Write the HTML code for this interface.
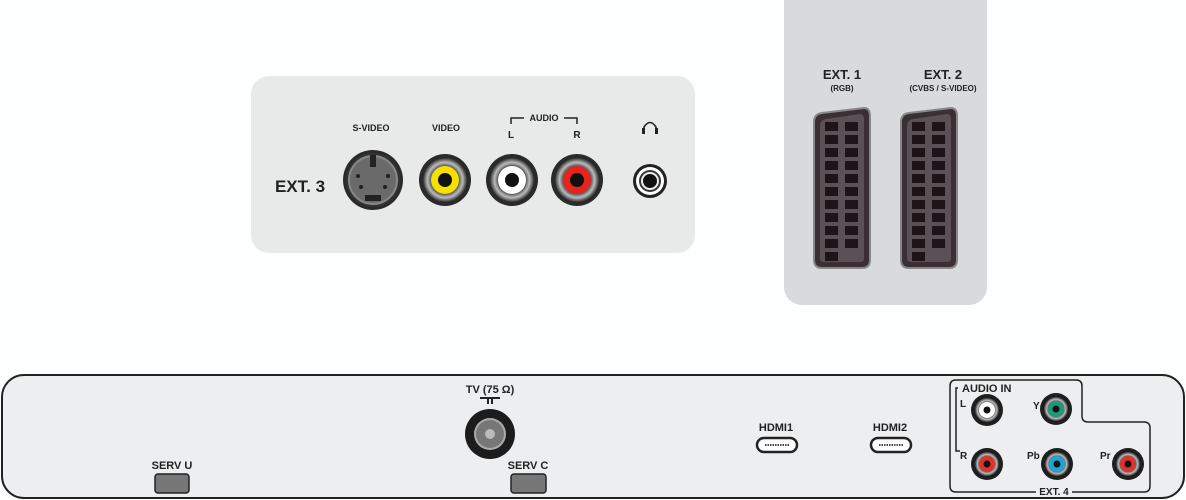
<!DOCTYPE html>
<html><head><style>
html,body{margin:0;padding:0;background:#fdfefe;}
svg{display:block;}
text{font-family:"Liberation Sans",sans-serif;font-weight:bold;fill:#222;}
</style></head><body>
<svg width="1186" height="500" viewBox="0 0 1186 500" xmlns="http://www.w3.org/2000/svg">
<defs>
<radialGradient id="rg" cx="50%" cy="50%" r="50%">
<stop offset="0.6" stop-color="#444"/><stop offset="0.8" stop-color="#bbb"/><stop offset="1" stop-color="#333"/>
</radialGradient>
<g id="scart">
<path d="M2,14 Q2,6 10,5 L52,0 Q58,0 58,8 L58,152 Q58,160 50,160 L10,160 Q2,160 2,152 Z" fill="#3a3034" stroke="#888" stroke-width="2"/>
<path d="M8,18 Q8,12 14,11 L48,6 Q52,6 52,12 L52,150 Q52,154 48,154 L12,154 Q8,154 8,150 Z" fill="#5a5055"/>
</g>
</defs>
<!-- top panel -->
<rect x="251" y="76" width="444" height="177" rx="18" fill="#e8eaea"/>
<text x="300" y="192" font-size="17" text-anchor="middle">EXT. 3</text>
<text x="371" y="131" font-size="9" text-anchor="middle" font-weight="normal">S-VIDEO</text>
<text x="446" y="131" font-size="9" text-anchor="middle" font-weight="normal">VIDEO</text>
<path d="M511,124 V118 H524 M564,118 H577 V124" stroke="#222" stroke-width="1.5" fill="none"/>
<text x="544" y="121" font-size="9" text-anchor="middle" font-weight="normal">AUDIO</text>
<text x="511" y="138" font-size="10" text-anchor="middle">L</text>
<text x="577" y="138" font-size="10" text-anchor="middle">R</text>
<path d="M644,133 V127 Q650,118 656,127 V133" stroke="#222" stroke-width="1.6" fill="none"/>
<rect x="642" y="128" width="3" height="6" fill="#222"/><rect x="655" y="128" width="3" height="6" fill="#222"/>
<!-- s-video -->
<circle cx="373" cy="180" r="30" fill="#2a2a2a"/>
<circle cx="373" cy="180" r="26" fill="#888" stroke="#333" stroke-width="2"/>
<circle cx="373" cy="180" r="23" fill="#6a6a6a"/>
<rect x="370" y="155" width="6" height="12" fill="#222"/>
<rect x="365" y="195" width="16" height="6" fill="#222"/>
<circle cx="358" cy="176" r="2" fill="#222"/><circle cx="388" cy="176" r="2" fill="#222"/>
<circle cx="361" cy="187" r="2" fill="#222"/><circle cx="385" cy="187" r="2" fill="#222"/>
<!-- rca -->
<g>
<circle cx="445" cy="180" r="26" fill="#2a2a2a"/><circle cx="445" cy="180" r="22" fill="url(#rg)"/><circle cx="445" cy="180" r="14" fill="#f5e000"/><circle cx="445" cy="180" r="7" fill="#111"/>
<circle cx="512" cy="180" r="26" fill="#2a2a2a"/><circle cx="512" cy="180" r="22" fill="url(#rg)"/><circle cx="512" cy="180" r="14" fill="#fff"/><circle cx="512" cy="180" r="7" fill="#111"/>
<circle cx="577" cy="180" r="26" fill="#2a2a2a"/><circle cx="577" cy="180" r="22" fill="url(#rg)"/><circle cx="577" cy="180" r="14" fill="#e8231e"/><circle cx="577" cy="180" r="7" fill="#111"/>
<circle cx="650" cy="181" r="17" fill="#222"/><circle cx="650" cy="181" r="14" fill="#fff"/><circle cx="650" cy="181" r="11" fill="#333"/><circle cx="650" cy="181" r="9" fill="#eee"/><circle cx="650" cy="181" r="7" fill="#111"/>
</g>
<!-- scart panel -->
<rect x="784" y="-20" width="203" height="325" rx="18" fill="#d8dadb"/>
<text x="842" y="79" font-size="13" text-anchor="middle">EXT. 1</text>
<text x="842" y="91" font-size="8" text-anchor="middle">(RGB)</text>
<text x="943" y="79" font-size="13" text-anchor="middle">EXT. 2</text>
<text x="943" y="91" font-size="8" text-anchor="middle">(CVBS / S-VIDEO)</text>
<use href="#scart" x="812" y="108"/>
<use href="#scart" x="899" y="108"/>
<g fill="#1a1216">
<path id="pins" d=""/>
</g>
<g fill="#1e1418">
<!-- pins ext1 -->
<rect x="825" y="122" width="13" height="9"/><rect x="845" y="122" width="13" height="9"/>
<rect x="825" y="135" width="13" height="9"/><rect x="845" y="135" width="13" height="9"/>
<rect x="825" y="148" width="13" height="9"/><rect x="845" y="148" width="13" height="9"/>
<rect x="825" y="161" width="13" height="9"/><rect x="845" y="161" width="13" height="9"/>
<rect x="825" y="174" width="13" height="9"/><rect x="845" y="174" width="13" height="9"/>
<rect x="825" y="187" width="13" height="9"/><rect x="845" y="187" width="13" height="9"/>
<rect x="825" y="200" width="13" height="9"/><rect x="845" y="200" width="13" height="9"/>
<rect x="825" y="213" width="13" height="9"/><rect x="845" y="213" width="13" height="9"/>
<rect x="825" y="226" width="13" height="9"/><rect x="845" y="226" width="13" height="9"/>
<rect x="825" y="239" width="13" height="9"/><rect x="845" y="239" width="13" height="9"/>
<rect x="825" y="252" width="13" height="9"/>
<!-- ext2 -->
<rect x="912" y="122" width="13" height="9"/><rect x="932" y="122" width="13" height="9"/>
<rect x="912" y="135" width="13" height="9"/><rect x="932" y="135" width="13" height="9"/>
<rect x="912" y="148" width="13" height="9"/><rect x="932" y="148" width="13" height="9"/>
<rect x="912" y="161" width="13" height="9"/><rect x="932" y="161" width="13" height="9"/>
<rect x="912" y="174" width="13" height="9"/><rect x="932" y="174" width="13" height="9"/>
<rect x="912" y="187" width="13" height="9"/><rect x="932" y="187" width="13" height="9"/>
<rect x="912" y="200" width="13" height="9"/><rect x="932" y="200" width="13" height="9"/>
<rect x="912" y="213" width="13" height="9"/><rect x="932" y="213" width="13" height="9"/>
<rect x="912" y="226" width="13" height="9"/><rect x="932" y="226" width="13" height="9"/>
<rect x="912" y="239" width="13" height="9"/><rect x="932" y="239" width="13" height="9"/>
<rect x="912" y="252" width="13" height="9"/>
</g>
<!-- bottom panel -->
<rect x="2" y="375" width="1182" height="123" rx="22" fill="#eceeef" stroke="#222" stroke-width="2"/>
<text x="490" y="393" font-size="11" text-anchor="middle">TV (75 Ω)</text>
<path d="M480,398 H500 M488,398 V404 M492,398 V404" stroke="#222" stroke-width="2" fill="none"/>
<circle cx="490" cy="434" r="25" fill="#1c1c1c"/><circle cx="490" cy="434" r="16" fill="#aaa"/><circle cx="490" cy="434" r="14" fill="#777"/><circle cx="490" cy="434" r="5" fill="#bbb"/>
<text x="172" y="469" font-size="11" text-anchor="middle">SERV U</text>
<rect x="155" y="474" width="34" height="19" rx="3" fill="#777" stroke="#222" stroke-width="1.5"/>
<text x="528" y="469" font-size="11" text-anchor="middle">SERV C</text>
<rect x="511" y="474" width="35" height="19" rx="3" fill="#777" stroke="#222" stroke-width="1.5"/>
<text x="776" y="431" font-size="11" text-anchor="middle">HDMI1</text>
<rect x="757" y="438" width="40" height="14" rx="7" fill="#fff" stroke="#222" stroke-width="2.5"/>
<path d="M765,445 H789" stroke="#444" stroke-width="2" stroke-dasharray="1.5 1"/>
<text x="890" y="431" font-size="11" text-anchor="middle">HDMI2</text>
<rect x="871" y="438" width="40" height="14" rx="7" fill="#fff" stroke="#222" stroke-width="2.5"/>
<path d="M879,445 H903" stroke="#444" stroke-width="2" stroke-dasharray="1.5 1"/>
<!-- ext4 -->
<path d="M956,380 H1076 Q1082,380 1082,386 V416 Q1082,422 1088,422 H1144 Q1150,422 1150,428 V486 Q1150,492 1144,492 H956 Q950,492 950,486 V386 Q950,380 956,380 Z" fill="none" stroke="#222" stroke-width="1.5"/>
<rect x="1036" y="486" width="36" height="10" fill="#eceeef"/>
<text x="1054" y="495" font-size="10" text-anchor="middle">EXT. 4</text>
<rect x="958" y="382" width="60" height="12" fill="#eceeef"/>
<text x="962" y="392" font-size="11">AUDIO IN</text>
<path d="M958,388 H956 V451 H960" stroke="#222" stroke-width="1.5" fill="none"/>
<text x="960" y="407" font-size="10">L</text>
<text x="960" y="459" font-size="10">R</text>
<text x="1033" y="409" font-size="10">Y</text>
<text x="1027" y="459" font-size="10">Pb</text>
<text x="1100" y="459" font-size="10">Pr</text>
<g>
<circle cx="987" cy="410" r="16" fill="#1e1e1e"/><circle cx="987" cy="410" r="12" fill="url(#rg)"/><circle cx="987" cy="410" r="8" fill="#fff"/><circle cx="987" cy="410" r="3.5" fill="#111"/>
<circle cx="1056" cy="409" r="16" fill="#1e1e1e"/><circle cx="1056" cy="409" r="12" fill="url(#rg)"/><circle cx="1056" cy="409" r="8" fill="#1a9c7c"/><circle cx="1056" cy="409" r="3.5" fill="#111"/>
<circle cx="987" cy="464" r="16" fill="#1e1e1e"/><circle cx="987" cy="464" r="12" fill="url(#rg)"/><circle cx="987" cy="464" r="8" fill="#e0322a"/><circle cx="987" cy="464" r="3.5" fill="#111"/>
<circle cx="1057" cy="464" r="16" fill="#1e1e1e"/><circle cx="1057" cy="464" r="12" fill="url(#rg)"/><circle cx="1057" cy="464" r="8" fill="#1aa6d8"/><circle cx="1057" cy="464" r="3.5" fill="#111"/>
<circle cx="1128" cy="464" r="16" fill="#1e1e1e"/><circle cx="1128" cy="464" r="12" fill="url(#rg)"/><circle cx="1128" cy="464" r="8" fill="#e0322a"/><circle cx="1128" cy="464" r="3.5" fill="#111"/>
</g>
</svg>
</body></html>
